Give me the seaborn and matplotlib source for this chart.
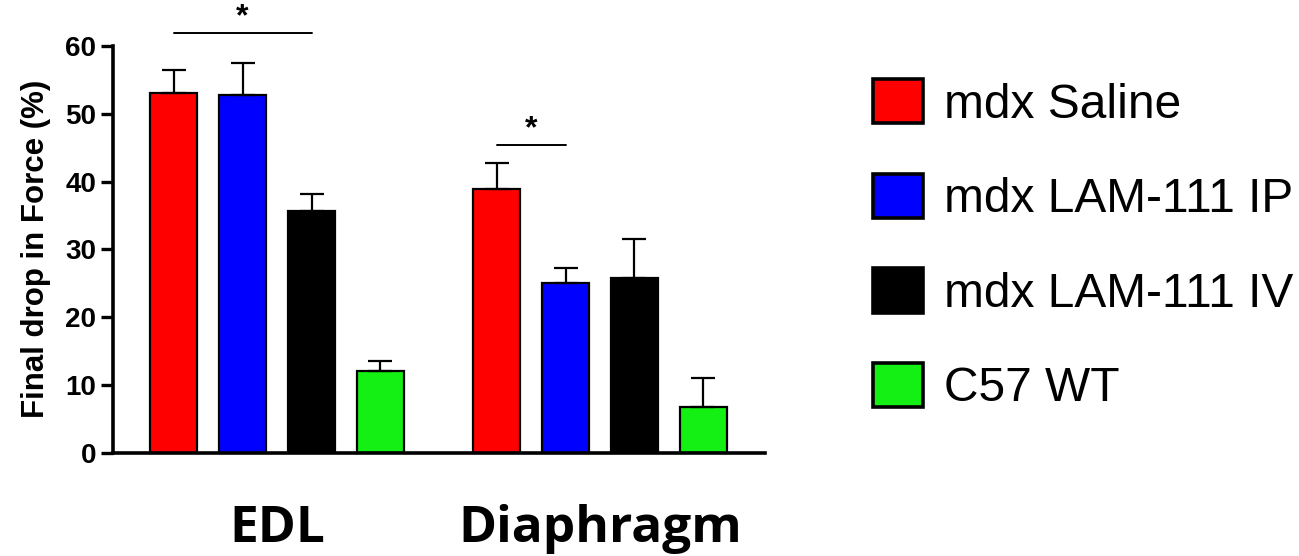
import matplotlib
matplotlib.use("Agg")
import matplotlib.pyplot as plt
import seaborn as sns
import pandas as pd

# ---- data ----
muscles = ["EDL", "Diaphragm"]
groups = ["mdx Saline", "mdx LAM-111 IP", "mdx LAM-111 IV", "C57 WT"]
edl_means = [53.0, 52.8, 35.6, 12.0]
edl_sem = [3.4, 4.7, 2.5, 1.5]
dia_means = [38.9, 25.1, 25.7, 6.8]
dia_sem = [3.8, 2.2, 5.8, 4.2]
colors = ["#FF0000", "#0000FF", "#000000", "#14F014"]
yticks = [0, 10, 20, 30, 40, 50, 60]
ylabel = "Final drop in Force (%)"
# significance: (muscle index, group a, group b, line height)
sig_muscle = [0, 1]
sig_a = [0, 0]
sig_b = [2, 1]
sig_y = [61.9, 45.4]
sig_text = ["*", "*"]

rows = []
for m, means, sems in [(muscles[0], edl_means, edl_sem), (muscles[1], dia_means, dia_sem)]:
    for g, v, e in zip(groups, means, sems):
        rows.append({"muscle": m, "group": g, "value": v, "sem": e})
df = pd.DataFrame(rows)

sns.set_style("white")
plt.rcParams["font.family"] = ["Liberation Sans", "DejaVu Sans"]
for k in ["text.color", "axes.labelcolor", "xtick.color", "ytick.color", "axes.edgecolor"]:
    plt.rcParams[k] = "black"

W, H = 1299, 556
fig = plt.figure(figsize=(W / 100, H / 100), dpi=100)
ax = fig.add_axes([113 / W, (H - 452.7) / H, (765 - 113) / W, (452.7 - 46) / H])

sns.barplot(data=df, x="muscle", y="value", hue="group", order=muscles,
            hue_order=groups, palette=colors, width=0.854, gap=0.32,
            edgecolor="black", linewidth=1.6, errorbar=None, ax=ax,
            saturation=1)

bar_containers = list(ax.containers)
# error bars (upper only) at the library's bar positions
centers = {}
for gi, cont in enumerate(bar_containers):
    for mi, bar in enumerate(cont.patches):
        x = bar.get_x() + bar.get_width() / 2
        h = bar.get_height()
        centers[(mi, gi)] = (x, h)
        sem = df[(df.muscle == muscles[mi]) & (df.group == groups[gi])]["sem"].iloc[0]
        ax.errorbar([x], [h], yerr=[[0], [sem]], fmt="none", ecolor="black",
                    elinewidth=1.6, capsize=8.5, capthick=1.6, zorder=1)

# significance lines
for m, a, b, y, t in zip(sig_muscle, sig_a, sig_b, sig_y, sig_text):
    xa = centers[(m, a)][0]
    xb = centers[(m, b)][0]
    ax.plot([xa, xb], [y, y], color="black", lw=1.4, clip_on=False)
    ax.text((xa + xb) / 2, y + 0.1, t, ha="center", va="bottom",
            fontsize=23, fontweight="bold", clip_on=False)

ax.set_xlim(-0.508, 1.511)
ax.set_ylim(0, 60)
ax.set_yticks(yticks)
ax.set_yticklabels([str(v) for v in yticks], fontsize=20, fontweight="bold")
ax.set_ylabel(ylabel, fontsize=22.5, fontweight="bold", labelpad=10)
ax.set_xlabel("")
ax.set_xticks(range(len(muscles)))
ax.set_xticklabels(muscles, fontsize=37, fontweight="bold", family="Open Sans")
ax.tick_params(axis="x", length=0, pad=37)
ax.tick_params(axis="y", length=9, width=2.4, pad=3, direction="out", left=True)
for s in ["top", "right"]:
    ax.spines[s].set_visible(False)
for s in ["left", "bottom"]:
    ax.spines[s].set_linewidth(2.6)
    ax.spines[s].set_color("black")

handles, labels = ax.get_legend_handles_labels()
if ax.legend_ is not None:
    ax.legend_.remove()
leg = fig.legend(handles, labels, loc="upper left",
                 bbox_to_anchor=(873 / W, 1 - 79 / H), frameon=False,
                 fontsize=34.5, handlelength=1.05, handleheight=1.05,
                 handletextpad=0.44, labelspacing=0.96, borderpad=0,
                 borderaxespad=0)
for h in leg.legend_handles:
    h.set_linewidth(2.6)
    h.set_edgecolor("black")

fig.savefig("out.png", dpi=100)
